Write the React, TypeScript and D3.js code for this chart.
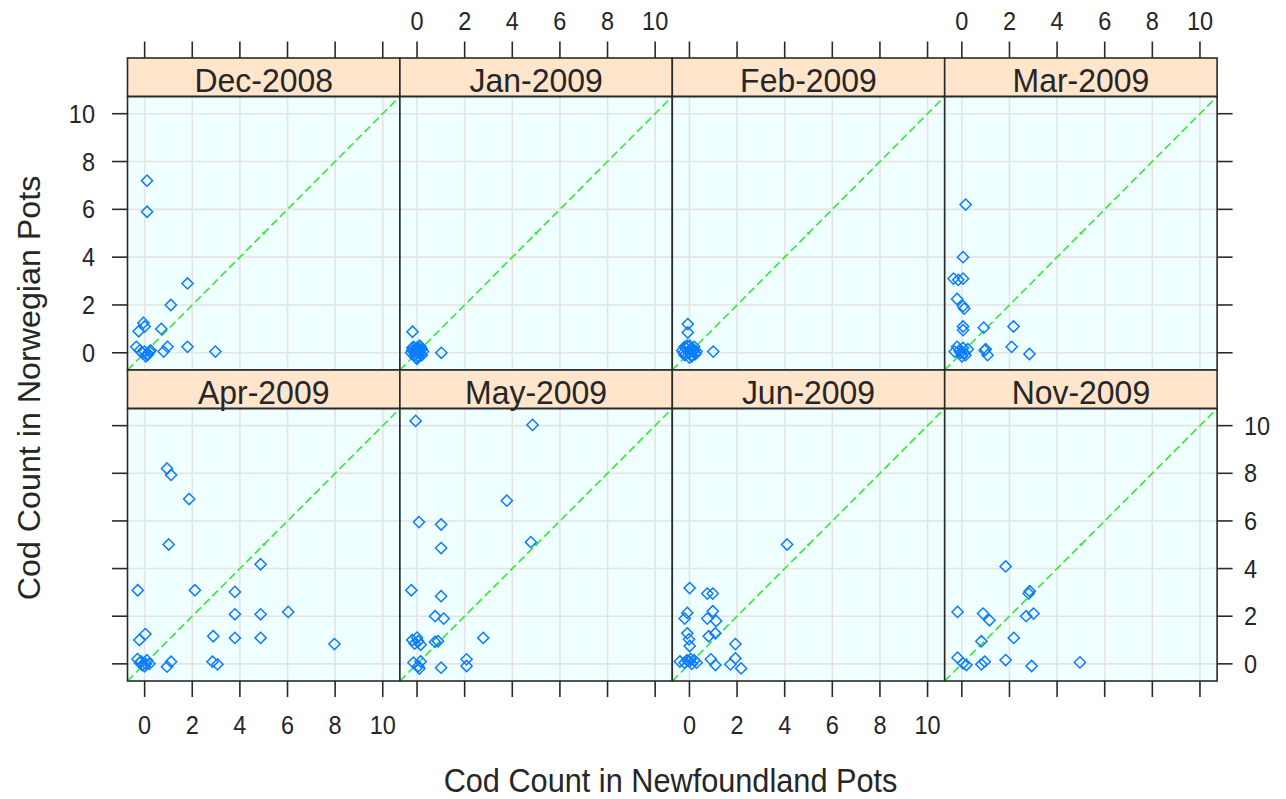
import React from "react";
import * as d3 from "d3";

const panelLabels = ["Dec-2008", "Jan-2009", "Feb-2009", "Mar-2009", "Apr-2009", "May-2009", "Jun-2009", "Nov-2009"];
const tickValues = [0, 2, 4, 6, 8, 10];
const xTitle = "Cod Count in Newfoundland Pots";
const yTitle = "Cod Count in Norwegian Pots";

// Newfoundland (x) and Norwegian (y) counts, jittered as drawn
const decNF = [0.1, 0.1, 1.8, 1.1, 0.7, -0.05, -0.25, 0.0, 1.8, 2.97, 0.8, 0.96, -0.35, -0.1, 0.1, 0.2, 0.05, 0.25, -0.2, 0.15, 0.0];
const decNO = [7.2, 5.9, 2.9, 2.0, 1.0, 1.25, 0.9, 1.1, 0.25, 0.05, 0.05, 0.25, 0.25, 0.0, -0.1, 0.05, -0.15, 0.1, 0.1, -0.05, 0.05];

const janNF = [-0.19, 1.02, -0.2, -0.1, 0.0, 0.1, 0.2, -0.15, 0.05, 0.15, -0.25, 0.25, 0.0, 0.1, -0.05, -0.2, 0.15, 0.05, -0.1, 0.2, -0.05, 0.1, 0.0];
const janNO = [0.88, 0.0, 0.1, -0.1, 0.2, 0.0, 0.15, 0.25, -0.15, -0.05, 0.0, 0.05, 0.05, 0.3, -0.2, 0.2, 0.25, 0.1, 0.05, -0.1, -0.05, 0.15, -0.25];

const febNF = [-0.07, -0.07, 1.0, -0.3, -0.15, 0.0, 0.15, 0.3, -0.2, 0.1, 0.2, -0.1, 0.05, -0.25, 0.25, 0.0, -0.2, 0.1, -0.05, 0.2, 0.0, -0.15, 0.1];
const febNO = [1.2, 0.85, 0.05, 0.1, 0.2, 0.0, 0.1, 0.05, -0.1, -0.15, 0.25, 0.3, 0.15, 0.0, -0.05, -0.2, 0.25, 0.2, 0.05, 0.1, 0.3, -0.05, -0.1];

const marNF = [0.16, 0.05, -0.35, -0.15, 0.05, -0.2, 0.05, 0.1, 0.05, 0.05, 0.92, 2.17, 2.09, 2.84, 0.96, 1.08, 1.0, -0.3, -0.1, 0.1, 0.25, 0.0, 0.15, -0.2, -0.05, 0.05];
const marNO = [6.2, 4.0, 3.1, 3.05, 3.1, 2.25, 1.95, 1.85, 1.1, 0.95, 1.05, 1.1, 0.25, -0.05, 0.1, -0.1, 0.15, 0.05, 0.1, 0.0, 0.15, -0.15, -0.1, 0.25, 0.0, 0.2];

const aprNF = [0.94, 1.11, 1.87, 1.01, 4.87, -0.29, 2.11, 3.79, 3.79, 4.87, 6.03, -0.22, 0.03, 2.88, 3.79, 4.87, 7.97, 0.94, 1.11, 2.85, 3.06, -0.3, -0.15, 0.0, 0.2, -0.1, 0.1, -0.2, 0.05];
const aprNO = [8.2, 7.93, 6.92, 5.01, 4.18, 3.09, 3.09, 3.02, 2.08, 2.08, 2.18, 1.0, 1.25, 1.16, 1.09, 1.09, 0.83, -0.12, 0.09, 0.09, -0.02, 0.2, 0.1, -0.1, 0.0, -0.05, 0.15, 0.05, 0.0];

const mayNF = [-0.06, 4.85, 3.77, 0.08, 1.01, 1.01, 4.78, -0.24, 1.01, 0.76, 1.12, 2.78, 0.75, 0.88, -0.2, 0.0, -0.1, 0.15, 0.05, 1.01, 2.08, 2.08, -0.15, 0.05, 0.15, 0.1];
const mayNO = [10.2, 10.03, 6.85, 5.95, 5.85, 4.86, 5.11, 3.09, 2.84, 2.0, 1.9, 1.09, 0.92, 0.95, 1.0, 1.1, 0.85, 0.8, 0.95, -0.16, 0.19, -0.09, 0.05, -0.1, 0.1, -0.2];

const junNF = [4.1, 0.01, 0.75, 0.98, -0.09, -0.2, 0.98, 0.75, 1.12, -0.09, -0.02, 0.01, 0.81, 1.09, 1.93, -0.4, -0.2, 0.0, 0.2, 0.3, 0.1, 0.9, 1.09, 1.72, 1.93, 2.17, 0.05, -0.1];
const junNO = [5.01, 3.18, 2.95, 2.95, 2.14, 1.9, 2.21, 1.9, 1.8, 1.28, 1.03, 0.75, 1.16, 1.28, 0.83, 0.1, 0.05, 0.1, 0.15, 0.05, 0.0, 0.19, -0.05, -0.02, 0.23, -0.19, 0.2, 0.15];

const novNF = [1.84, 2.81, 2.85, -0.18, 0.89, 1.16, 2.7, 3.01, 2.18, 0.82, -0.18, 0.05, 0.19, 0.82, 0.96, 1.84, 2.93, 4.96];
const novNO = [4.09, 2.95, 3.05, 2.18, 2.11, 1.83, 2.0, 2.11, 1.09, 0.95, 0.26, 0.02, -0.05, -0.02, 0.09, 0.16, -0.09, 0.06];

const seriesNF = [decNF, janNF, febNF, marNF, aprNF, mayNF, junNF, novNF];
const seriesNO = [decNO, janNO, febNO, marNO, aprNO, mayNO, junNO, novNO];

// layout
const W = 1286;
const H = 799;
const colLeft = 127.5;
const colW = 272.4;
const rows = [
  { stripTop: 58, panelTop: 96.5, panelBottom: 370 },
  { stripTop: 370, panelTop: 408.5, panelBottom: 681 },
];
const domain: [number, number] = [-0.72, 10.72];
const FONT = "'Liberation Sans', Arial, Helvetica, sans-serif";
const TXT = "#262626";
const AX = "#2a2a2a";

const diamondType = {
  draw(ctx: any, size: number) {
    const r = size;
    ctx.moveTo(0, -r);
    ctx.lineTo(r, 0);
    ctx.lineTo(0, r);
    ctx.lineTo(-r, 0);
    ctx.closePath();
  },
};
const diamondPath = d3.symbol().type(diamondType as any).size(5.6)() as string;

function Txt(props: { x: number; y: number; s: string; size: number; sx?: number; anchor?: string; rotate?: number }) {
  const { x, y, s, size, sx = 1, anchor = "middle", rotate = 0 } = props;
  return (
    <text
      transform={`translate(${x},${y}) rotate(${rotate}) scale(${sx},1)`}
      textAnchor={anchor}
      fontFamily={FONT}
      fontSize={size}
      fill={TXT}
    >
      {s}
    </text>
  );
}

export default function App() {
  const els: React.ReactNode[] = [];
  panelLabels.forEach((label, i) => {
    const r = Math.floor(i / 4);
    const c = i % 4;
    const row = rows[r];
    const left = colLeft + c * colW;
    const right = left + colW;
    const xs = d3.scaleLinear().domain(domain).range([left, right]);
    const ys = d3.scaleLinear().domain(domain).range([row.panelBottom, row.panelTop]);
    const nf = seriesNF[i];
    const no = seriesNO[i];

    els.push(
      <g key={"p" + i}>
        <rect x={left} y={row.panelTop} width={colW} height={row.panelBottom - row.panelTop} fill="#f0ffff" />
        {tickValues.map((t) => (
          <line key={"gx" + t} x1={xs(t)} x2={xs(t)} y1={row.panelTop} y2={row.panelBottom} stroke="#e6e3e3" strokeWidth={1.6} />
        ))}
        {tickValues.map((t) => (
          <line key={"gy" + t} x1={left} x2={right} y1={ys(t)} y2={ys(t)} stroke="#e6e3e3" strokeWidth={1.6} />
        ))}
        <line
          x1={xs(domain[0])}
          y1={ys(domain[0])}
          x2={xs(domain[1])}
          y2={ys(domain[1])}
          stroke="#3ee83e"
          strokeWidth={1.7}
          strokeDasharray="8,4"
        />
        <circle cx={xs(5)} cy={ys(5)} r={1.6} fill="#3ee83e" />
        {nf.map((v, k) => (
          <path
            key={"pt" + k}
            d={diamondPath}
            transform={`translate(${xs(v)},${ys(no[k])})`}
            fill="none"
            stroke="#0a7dff"
            strokeWidth={1.5}
          />
        ))}
        <rect x={left} y={row.stripTop} width={colW} height={row.panelTop - row.stripTop} fill="#ffe5cc" stroke={AX} strokeWidth={1.6} />
        <Txt x={(left + right) / 2} y={row.stripTop + 33.5} s={label} size={34} sx={0.94} />
        <rect x={left} y={row.panelTop} width={colW} height={row.panelBottom - row.panelTop} fill="none" stroke={AX} strokeWidth={1.6} />
      </g>
    );

    if (r === 0) {
      tickValues.forEach((t) => {
        els.push(<line key={`tt${i}-${t}`} x1={xs(t)} x2={xs(t)} y1={row.stripTop} y2={row.stripTop - 16.5} stroke={AX} strokeWidth={1.6} />);
        if (c === 1 || c === 3) {
          els.push(<Txt key={`tl${i}-${t}`} x={xs(t)} y={30} s={String(t)} size={25} sx={0.94} />);
        }
      });
    }
    if (r === 1) {
      tickValues.forEach((t) => {
        els.push(<line key={`bt${i}-${t}`} x1={xs(t)} x2={xs(t)} y1={row.panelBottom} y2={row.panelBottom + 16} stroke={AX} strokeWidth={1.6} />);
        if (c === 0 || c === 2) {
          els.push(<Txt key={`bl${i}-${t}`} x={xs(t)} y={734} s={String(t)} size={25} sx={0.94} />);
        }
      });
    }
    if (c === 0) {
      tickValues.forEach((t) => {
        els.push(<line key={`lt${i}-${t}`} x1={left} x2={left - 15.5} y1={ys(t)} y2={ys(t)} stroke={AX} strokeWidth={1.6} />);
        if (r === 0) {
          els.push(<Txt key={`ll${i}-${t}`} x={95} y={ys(t) + 9} s={String(t)} size={25} sx={0.94} anchor="end" />);
        }
      });
    }
    if (c === 3) {
      tickValues.forEach((t) => {
        els.push(<line key={`rt${i}-${t}`} x1={right} x2={right + 15.5} y1={ys(t)} y2={ys(t)} stroke={AX} strokeWidth={1.6} />);
        if (r === 1) {
          els.push(<Txt key={`rl${i}-${t}`} x={1244} y={ys(t) + 9} s={String(t)} size={25} sx={0.94} anchor="start" />);
        }
      });
    }
  });

  return (
    <svg
      width={W}
      height={H}
      style={{ position: "absolute", left: 0, top: 0, display: "block", background: "#ffffff" }}
    >
      <rect x={0} y={0} width={W} height={H} fill="#ffffff" />
      {els}
      <Txt x={670.5} y={792} s={xTitle} size={33} sx={0.93} />
      <Txt x={40} y={388} s={yTitle} size={31} sx={1.04} rotate={-90} />
    </svg>
  );
}
